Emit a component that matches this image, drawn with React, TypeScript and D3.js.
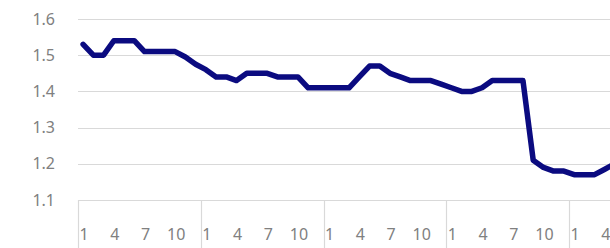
import React from "react";
import * as d3 from "d3";

const yTicks = [1.1, 1.2, 1.3, 1.4, 1.5, 1.6];
const monthLabels = ["1", "4", "7", "10"];
const labelMonths = [0, 3, 6, 9];
const years = [1, 2, 3, 4, 5];
const values = [
  // year 1
  1.53, 1.5, 1.5, 1.54, 1.54, 1.54, 1.51, 1.51, 1.51, 1.51, 1.495, 1.475,
  // year 2
  1.46, 1.44, 1.44, 1.43, 1.45, 1.45, 1.45, 1.44, 1.44, 1.44, 1.41, 1.41,
  // year 3
  1.41, 1.41, 1.41, 1.44, 1.47, 1.47, 1.45, 1.44, 1.43, 1.43, 1.43, 1.42,
  // year 4
  1.41, 1.4, 1.4, 1.41, 1.43, 1.43, 1.43, 1.43, 1.21, 1.19, 1.18, 1.18,
  // year 5
  1.17, 1.17, 1.17, 1.185, 1.2,
];

const W = 610;
const H = 248;
const left = 78;
const top = 19;
const bottom = 200;
const yearWidth = 122.75;

export default function App() {
  const months = d3.range(years.length * 12);
  const x = d3
    .scaleBand<number>()
    .domain(months)
    .range([left, left + yearWidth * years.length])
    .paddingInner(0)
    .paddingOuter(0);
  const y = d3.scaleLinear().domain([1.1, 1.6]).range([bottom, top]);
  const bw = x.bandwidth();
  const line = d3
    .line<number>()
    .x((_, i) => (x(i) as number) + bw / 2)
    .y((d) => y(d))
    .curve(d3.curveLinear);
  const font = "'Noto Sans', sans-serif";
  const grey = "#808080";
  return (
    <svg
      width={W}
      height={H}
      style={{ position: "absolute", left: 0, top: 0, background: "#fff" }}
    >
      <defs>
        <clipPath id="clip">
          <rect x={0} y={0} width={W} height={H} />
        </clipPath>
      </defs>
      <g clipPath="url(#clip)">
        {yTicks.map((t) => (
          <g key={t}>
            <line
              x1={left}
              x2={W}
              y1={Math.round(y(t)) + 0.5}
              y2={Math.round(y(t)) + 0.5}
              stroke="#d9d9d9"
              strokeWidth={1.2}
            />
            <text
              x={55}
              y={y(t)}
              dy="0.35em"
              textAnchor="end"
              fontFamily={font}
              fontSize={16}
              fill={grey}
            >
              {t.toFixed(1)}
            </text>
          </g>
        ))}
        {years.map((yr, k) => (
          <line
            key={"sep" + yr}
            x1={Math.round(left + k * yearWidth) + 0.5}
            x2={Math.round(left + k * yearWidth) + 0.5}
            y1={bottom}
            y2={H}
            stroke="#d9d9d9"
            strokeWidth={1.2}
          />
        ))}
        {years.map((yr, k) =>
          labelMonths.map((m, j) => (
            <text
              key={yr + "-" + m}
              x={(x(k * 12 + m) as number) + bw / 2 + 1}
              y={234}
              dy="0.35em"
              textAnchor="middle"
              fontFamily={font}
              fontSize={16}
              fill={grey}
            >
              {monthLabels[j]}
            </text>
          ))
        )}
        <path
          d={line(values) || ""}
          fill="none"
          stroke="#0b0b80"
          strokeWidth={5.5}
          strokeLinejoin="round"
          strokeLinecap="round"
        />
      </g>
    </svg>
  );
}
